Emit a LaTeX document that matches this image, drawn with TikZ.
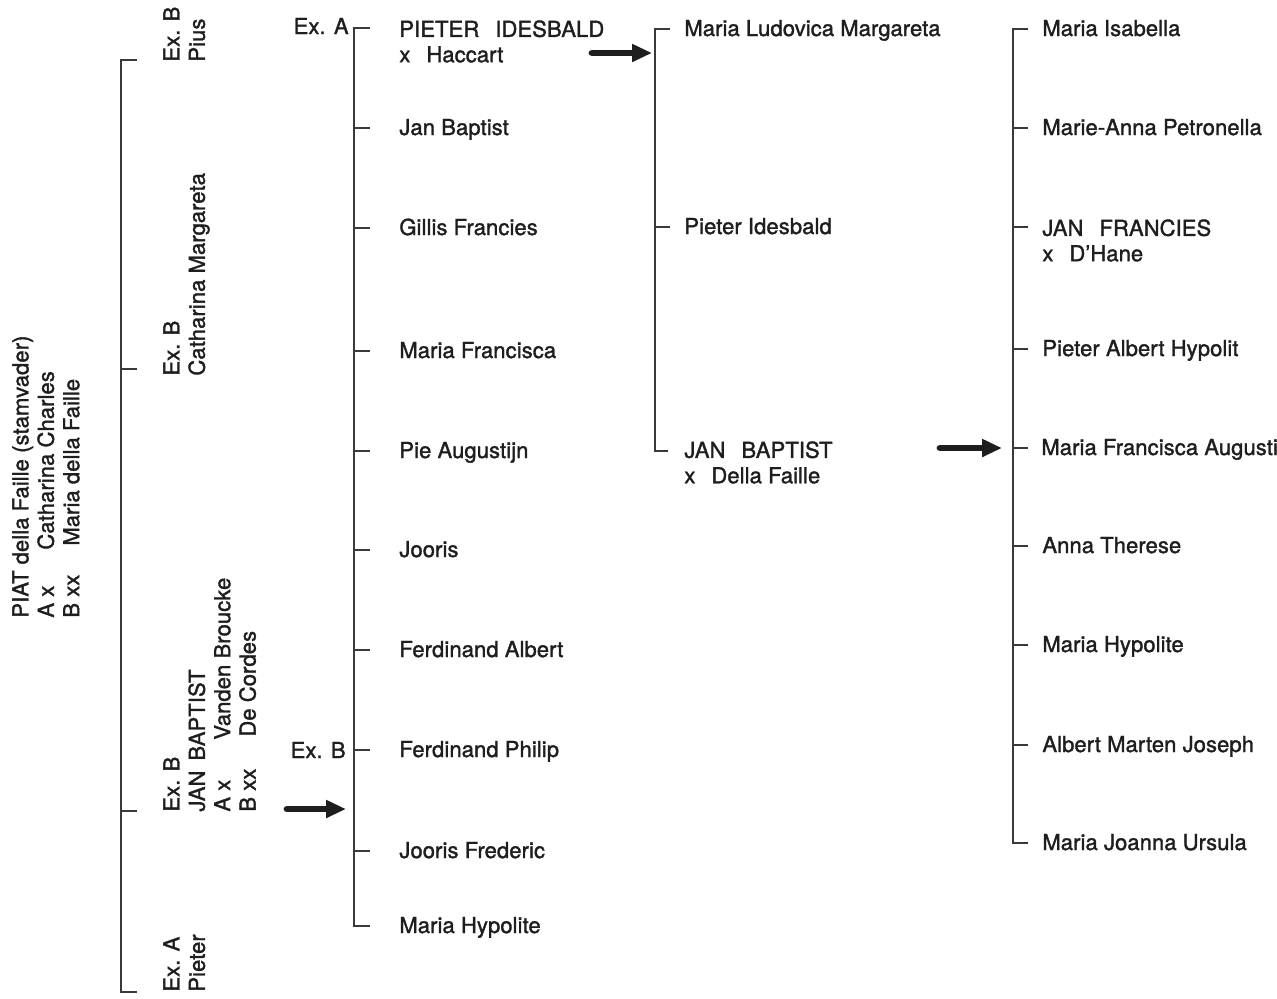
\documentclass[tikz,border=0pt]{standalone}
\usepackage{fontspec}
\setmainfont{TeX Gyre Heros}[FakeBold=1.5,LetterSpace=0.4]
\usetikzlibrary{arrows.meta}
\definecolor{ink}{HTML}{1E1E1E}
\definecolor{rule}{HTML}{3A3A3A}
\newcommand{\wgap}{\hspace{8pt}}
\begin{document}
\begin{tikzpicture}[x=0.5pt,y=-0.5pt,
  every node/.style={inner sep=0pt, font=\fontsize{11}{12.7}\selectfont, text=ink},
  lbl/.style={anchor=base west},
  pair/.style={anchor=north west, align=left},
  side/.style={rotate=90, anchor=north west, align=left},
  exlabel/.style={anchor=base east},
  bar/.style={line width=1.3pt, draw=rule},
  bigarrow/.style={draw=ink, line width=3.4pt, line cap=round, -{Triangle[length=10pt,width=8.5pt]}}]
\useasboundingbox (0,0) rectangle (1277,998);

% ---------- left bracket (generation 1 children) ----------
\coordinate (Ltop) at (121,60);
\coordinate (Lbot) at (121,992);
\draw[bar] (137,60) -- (Ltop) -- (Lbot) -- (137,992);
\foreach \y in {369,811} \draw[bar] (121,\y) -- (137,\y);

\node[side] (piat) at (12,618) {PIAT della Faille (stamvader)\\\makebox[34pt][l]{A x}Catharina Charles\\\makebox[36pt][l]{B xx}Maria della Faille};
\node[side] (pius) at (163,62) {Ex. B\\Pius};
\node[side] (cath) at (163,376) {Ex. B\\Catharina Margareta};
\node[side] (janb) at (163,812) {Ex. B\\JAN\hspace{5pt}BAPTIST\\\makebox[36pt][l]{A x}Vanden Broucke\\\makebox[37.5pt][l]{B xx}De Cordes};
\node[side] (pieter) at (163,992) {Ex. A\\Pieter};

% ---------- middle bracket ----------
\coordinate (Mtop) at (354,28);
\coordinate (Mbot) at (354,926);
\draw[bar] (370,28) -- (Mtop) -- (Mbot) -- (370,926);
\foreach \y in {128,228,351,451,550,650,750,851} \draw[bar] (354,\y) -- (370,\y);

\node[exlabel] (exa) at (349,34) {Ex. A};
\node[exlabel] (exb) at (346,758) {Ex. B};

\node[pair] (pi) at (399,20) {PIETER\wgap IDESBALD\\x\wgap Haccart};
\node[lbl] (jb1) at (399,135) {Jan Baptist};
\node[lbl] (gf) at (399,235) {Gillis Francies};
\node[lbl] (mf) at (399,358) {Maria Francisca};
\node[lbl] (pa) at (399,458) {Pie Augustijn};
\node[lbl] (jo) at (399,557) {Jooris};
\node[lbl] (fa) at (399,657) {Ferdinand Albert};
\node[lbl] (fp) at (399,757) {Ferdinand Philip};
\node[lbl] (jf) at (399,858) {Jooris Frederic};
\node[lbl] (mh1) at (399,933) {Maria Hypolite};

% ---------- third bracket ----------
\coordinate (Ttop) at (655,29);
\coordinate (Tbot) at (655,451);
\draw[bar] (670,29) -- (Ttop) -- (Tbot) -- (668,451);
\draw[bar] (655,227) -- (670,227);

\node[lbl] (mlm) at (684,36) {Maria Ludovica Margareta};
\node[lbl] (pid) at (684,234) {Pieter Idesbald};
\node[pair] (jb2) at (684,441) {JAN\wgap BAPTIST\\x\wgap Della Faille};

% ---------- fourth bracket ----------
\coordinate (Ftop) at (1013,29);
\coordinate (Fbot) at (1013,843);
\draw[bar] (1028,29) -- (Ftop) -- (Fbot) -- (1028,843);
\foreach \y in {128,227,349,448,546,645,745} \draw[bar] (1013,\y) -- (1028,\y);

\node[lbl] (mi) at (1042,36) {Maria Isabella};
\node[lbl] (map) at (1042,135) {Marie-Anna Petronella};
\node[pair] (jfr) at (1042,219) {JAN\wgap FRANCIES\\x\wgap D’Hane};
\node[lbl] (pah) at (1042,356) {Pieter Albert Hypolit};
\node[lbl] (mfa) at (1041,455) {Maria Francisca Augusti};
\node[lbl] (at) at (1042,553) {Anna Therese};
\node[lbl] (mh2) at (1042,652) {Maria Hypolite};
\node[lbl] (amj) at (1042,752) {Albert Marten Joseph};
\node[lbl] (mju) at (1042,850) {Maria Joanna Ursula};

% ---------- arrows ----------
\coordinate (a1s) at (592,53);  \coordinate (a1e) at (655,53);
\coordinate (a2s) at (940,448); \coordinate (a2e) at (1013,448);
\coordinate (a3s) at (287,809); \coordinate (a3e) at (354,809);
\draw[bigarrow, shorten >=1.5pt] (a1s) -- (a1e);
\draw[bigarrow, shorten >=5.5pt] (a2s) -- (a2e);
\draw[bigarrow, shorten >=4pt] (a3s) -- (a3e);
\end{tikzpicture}
\end{document}
